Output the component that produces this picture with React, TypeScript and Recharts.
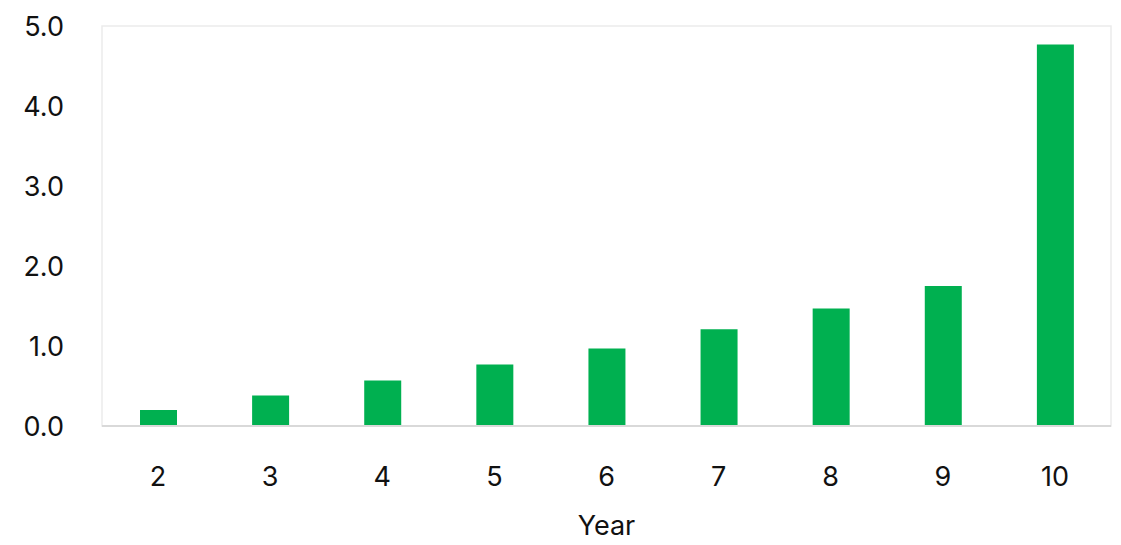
import { BarChart, Bar, XAxis, YAxis, ReferenceArea } from 'recharts'

const years = ['2', '3', '4', '5', '6', '7', '8', '9', '10']
const values = [0.2, 0.38, 0.57, 0.77, 0.97, 1.21, 1.47, 1.75, 4.77]
const yTicks = [0, 1, 2, 3, 4, 5]

const data = years.map((year, i) => ({ year, value: values[i] }))

const FONT = 'Inter, "Noto Sans", sans-serif'

export default function App() {
  return (
    <div style={{ position: 'absolute', left: 0, top: 0, fontFamily: FONT }}>
      <BarChart
        width={1121}
        height={545}
        data={data}
        margin={{ top: 26, right: 10, left: 0, bottom: 0 }}
      >
        <ReferenceArea y1={0} y2={5} fill="none" stroke="#ebebeb" strokeWidth={1.5} />
        <XAxis
          dataKey="year"
          height={119}
          tickLine={false}
          tickSize={0}
          tickMargin={41}
          axisLine={{ stroke: '#d9d9d9', strokeWidth: 2 }}
          tick={{ fill: '#111', fontSize: 27, fontFamily: FONT }}
          label={{ value: 'Year', position: 'insideBottom', offset: 10, fill: '#111', fontSize: 27, fontFamily: FONT }}
        />
        <YAxis
          width={102}
          domain={[0, 5]}
          ticks={yTicks}
          tickFormatter={(v: number) => v.toFixed(1)}
          axisLine={false}
          tickLine={false}
          tickSize={0}
          tickMargin={38}
          tick={{ fill: '#111', fontSize: 27, fontFamily: FONT }}
        />
        <Bar dataKey="value" fill="#00b050" barSize={37} isAnimationActive={false} />
      </BarChart>
    </div>
  )
}
